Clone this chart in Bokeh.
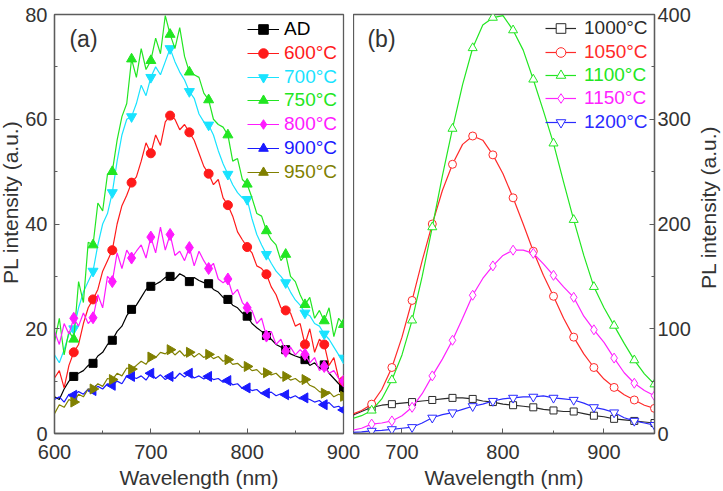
import math
from bokeh.plotting import figure
from bokeh.layouts import row
from bokeh.models import Range1d, SingleIntervalTicker, Legend, LegendItem, Label
from bokeh.embed import file_html
from bokeh.resources import INLINE

# ---------------- panel (a): as-deposited and 600-950 °C anneals ----------------
wl_a = list(range(600, 905, 5))

pl_ad = [7.0, 6.5, 8.5, 10.0, 10.9, 11.5, 12.0, 13.0, 13.4, 14.8,
         15.5, 17.0, 17.8, 19.5, 20.5, 22.5, 23.7, 24.5, 26.0, 27.5,
         28.1, 28.5, 29.0, 29.8, 30.0, 29.5, 30.5, 30.0, 29.0, 29.8,
         29.2, 28.8, 28.6, 27.5, 27.0, 26.0, 25.6, 24.5, 24.0, 23.0,
         22.4, 21.0, 20.2, 19.5, 18.7, 18.0, 17.0, 16.5, 16.0, 15.2,
         14.8, 14.5, 14.1, 13.0, 13.5, 12.5, 13.1, 11.5, 10.5, 9.5, 8.7]
pl_600 = [10.6, 12.0, 8.7, 13.0, 15.5, 17.0, 21.0, 24.0, 25.6, 27.5,
          31.0, 33.0, 35.0, 40.0, 43.5, 45.5, 47.9, 49.0, 52.0, 55.5,
          53.5, 57.0, 55.0, 59.5, 60.7, 60.0, 58.0, 59.0, 57.5, 56.0,
          53.5, 51.0, 49.6, 47.5, 48.5, 45.0, 43.6, 41.5, 38.5, 37.0,
          35.6, 34.5, 32.0, 31.5, 30.4, 28.0, 26.5, 24.0, 23.5, 23.0,
          20.5, 21.0, 17.0, 20.0, 15.5, 18.0, 17.0, 13.0, 14.5, 10.5, 10.0]
pl_700 = [15.0, 13.5, 16.0, 19.0, 20.0, 24.0, 27.0, 29.0, 31.0, 36.0,
          40.0, 42.0, 46.0, 52.0, 57.0, 60.0, 60.5, 63.0, 66.5, 64.5,
          68.0, 70.0, 68.5, 71.0, 73.5, 71.0, 69.0, 67.5, 65.3, 64.0,
          61.0, 59.5, 58.9, 57.0, 54.0, 51.5, 49.5, 47.5, 46.0, 45.0,
          44.7, 41.0, 38.0, 36.0, 34.2, 32.5, 31.0, 30.0, 28.8, 27.0,
          25.5, 24.5, 23.0, 22.5, 21.0, 20.5, 19.0, 18.0, 16.5, 15.0, 14.4]
pl_750 = [17.5, 22.0, 15.0, 19.5, 18.0, 29.0, 25.0, 36.5, 36.0, 44.0,
          42.5, 49.5, 50.0, 56.0, 60.5, 63.0, 71.5, 68.0, 73.5, 69.5,
          71.2, 75.5, 72.5, 79.8, 76.2, 73.5, 77.5, 72.0, 69.0, 68.5,
          68.0, 65.0, 63.7, 60.0, 59.0, 58.5, 57.0, 52.0, 52.5, 48.5,
          47.6, 45.0, 42.0, 41.5, 38.7, 37.0, 36.0, 33.0, 34.2, 30.0,
          29.0, 26.5, 24.6, 26.0, 22.0, 23.5, 21.5, 24.0, 18.5, 22.0, 20.8]
pl_800 = [19.5, 17.0, 21.0, 19.0, 22.0, 20.5, 23.0, 21.0, 22.1, 26.5,
          24.0, 30.0, 29.0, 34.5, 31.5, 35.0, 33.5, 34.8, 36.0, 33.5,
          37.5, 34.5, 39.4, 35.0, 38.0, 34.0, 34.8, 33.0, 35.5, 32.0,
          34.8, 33.0, 31.5, 32.5, 29.5, 28.8, 29.5, 26.5, 27.5, 25.0,
          24.0, 23.5, 21.0, 22.0, 18.6, 19.5, 17.0, 18.0, 15.7, 16.5,
          15.0, 16.0, 15.1, 13.5, 14.5, 12.0, 12.8, 11.5, 12.0, 10.5, 10.0]
pl_900 = [6.5, 7.0, 6.0, 7.5, 7.3, 8.0, 7.5, 8.5, 8.2, 9.0,
          8.5, 9.5, 9.2, 10.0, 9.5, 11.0, 10.9, 10.5, 11.0, 10.2,
          11.5, 10.5, 11.2, 10.3, 10.9, 10.5, 11.5, 10.8, 11.5, 10.6,
          11.0, 10.4, 10.9, 10.3, 10.5, 9.8, 10.1, 9.3, 9.5, 8.6,
          8.7, 8.2, 8.4, 7.6, 7.7, 7.9, 7.2, 7.6, 7.4, 6.8,
          7.2, 6.6, 6.8, 6.5, 6.0, 6.3, 5.5, 5.9, 5.0, 5.2, 4.5]
pl_950 = [3.8, 5.5, 5.0, 6.5, 6.0, 7.5, 7.0, 8.5, 8.5, 9.5,
          9.0, 10.5, 10.3, 11.5, 11.0, 12.5, 12.3, 13.0, 13.8, 13.2,
          14.6, 14.5, 15.5, 15.2, 16.0, 15.0, 15.8, 14.8, 15.5, 14.6,
          15.3, 14.5, 15.1, 14.3, 14.7, 13.8, 14.1, 13.2, 13.4, 12.6,
          12.8, 12.0, 12.2, 11.3, 11.6, 11.2, 11.5, 10.6, 10.9, 10.2,
          10.5, 9.8, 10.3, 9.2, 8.8, 8.0, 7.7, 8.0, 7.0, 7.5, 7.1]

labels_a = ["AD", "600°C", "700°C", "750°C", "800°C", "900°C", "950°C"]
colors_a = ["#000000", "#ff1a1a", "#19e3ff", "#22e622", "#ff1aff", "#1a1aff", "#808000"]

# ---------------- panel (b): 1000-1200 °C anneals ----------------
wl_b = list(range(650, 960, 10))

pl_1000 = [17, 21, 25, 27, 28, 29, 30, 31, 32, 33, 34, 34, 33, 31, 30, 28,
           27, 26, 25, 23, 22, 21, 21, 19, 17, 16, 14, 13, 12, 11, 10]
pl_1050 = [18, 22, 28, 42, 63, 92, 127, 165, 200, 232, 257, 276, 284, 280, 266, 248,
           225, 200, 174, 151, 131, 110, 92, 76, 63, 52, 44, 37, 32, 27, 24]
pl_1100 = [14, 17, 22, 33, 51, 75, 108, 150, 197, 246, 291, 333, 368, 390, 397, 399,
           385, 366, 338, 308, 277, 240, 204, 170, 140, 120, 103, 86, 70, 57, 47]
pl_1150 = [3, 5, 9, 10, 12, 17, 25, 38, 55, 71, 89, 110, 132, 148, 160, 170,
           175, 175, 172, 162, 151, 140, 130, 112, 99, 87, 72, 58, 48, 41, 36]
pl_1200 = [1, 1.5, 2.5, 3, 4, 5, 6, 10, 15, 18, 20, 23, 26, 28, 31, 33,
           34, 35, 35, 36, 34, 33, 32, 29, 25, 23, 20, 15, 12, 10, 8]

labels_b = ["1000°C", "1050°C", "1100°C", "1150°C", "1200°C"]
colors_b = ["#2a2a2a", "#ff2a2a", "#22e622", "#ff22ff", "#2a2aff"]

X_TITLE = "Wavelength (nm)"
Y_TITLE = "PL intensity (a.u.)"

FONT = "Liberation Sans"
AXC = "#5c5c5c"
TXT = "#333333"
H = 491


def style_axis(ax, interval, standoff):
    ax.ticker = SingleIntervalTicker(interval=interval, num_minor_ticks=2)
    ax.axis_line_color = AXC
    ax.axis_line_width = 1.3
    ax.major_tick_line_color = AXC
    ax.minor_tick_line_color = AXC
    ax.major_tick_in = 5
    ax.major_tick_out = 0
    ax.minor_tick_in = 3
    ax.minor_tick_out = 0
    ax.major_label_standoff = standoff
    ax.major_label_text_font = FONT
    ax.major_label_text_font_size = "20px"
    ax.major_label_text_color = TXT


def x_title(ax):
    ax.axis_label = X_TITLE
    ax.axis_label_standoff = 4
    ax.axis_label_text_font = FONT
    ax.axis_label_text_font_size = "21px"
    ax.axis_label_text_font_style = "normal"
    ax.axis_label_text_color = TXT


def base_figure(width, xr, yr, yside, **borders):
    p = figure(width=width, height=H, x_range=xr, y_range=yr,
               output_backend="svg", toolbar_location=None,
               y_axis_location=yside, min_border_top=14, min_border_bottom=58,
               **borders)
    p.xgrid.visible = False
    p.ygrid.visible = False
    p.outline_line_color = AXC
    p.outline_line_width = 1.3
    return p


def title_strip(width, cx, cy):
    # narrow strip holding a vertical axis title (reads bottom to top)
    s = figure(width=width, height=H, x_range=Range1d(0, width), y_range=Range1d(0, H),
               output_backend="svg", toolbar_location=None,
               x_axis_location=None, y_axis_location=None,
               min_border=0, min_border_left=0, min_border_right=0,
               min_border_top=0, min_border_bottom=0)
    s.xgrid.visible = False
    s.ygrid.visible = False
    s.outline_line_color = None
    s.add_layout(Label(x=cx, y=cy, text=Y_TITLE, angle=math.pi / 2,
                       text_align="center", text_baseline="middle",
                       text_font=FONT, text_font_size="21px", text_color=TXT))
    return s


def add_key(p, line_r, mark_r, text, color, x_off, y_off, gw, standoff):
    leg = Legend(items=[LegendItem(label=text, renderers=[line_r, mark_r])],
                 location=(x_off, y_off), glyph_width=gw, glyph_height=24,
                 label_height=24, label_standoff=standoff, padding=0, margin=0,
                 spacing=0, border_line_alpha=0, background_fill_alpha=0,
                 label_text_color=color, label_text_font=FONT,
                 label_text_font_size="19px")
    p.add_layout(leg)


# ---- left title strip
left_strip = title_strip(22, 10, H - 220)

# ---- panel (a)
pa = base_figure(338, Range1d(600, 900), Range1d(0, 80), "left",
                 min_border_left=30, min_border_right=17)
style_axis(pa.xaxis[0], 100, 11)
style_axis(pa.yaxis[0], 20, 7)
x_title(pa.xaxis[0])

series_a = [pl_ad, pl_600, pl_700, pl_750, pl_800, pl_900, pl_950]
# (marker, rotation in degrees, size): 900 °C points left, 950 °C points right
markers_a = [("square", 0, 8), ("circle", 0, 9), ("inverted_triangle", 0, 10),
             ("triangle", 0, 10), ("diamond", 0, 12), ("triangle", 90, 10),
             ("triangle", -90, 10)]
rows_a = [29, 52.5, 76.5, 100, 124, 147.5, 172]
for ys, lab, col, (mk, ang, sz), row_y in zip(series_a, labels_a, colors_a, markers_a, rows_a):
    lr = pa.line(wl_a, ys, line_color=col, line_width=1.2)
    mr = pa.scatter(wl_a[4::4], ys[4::4], marker=mk, angle=ang, angle_units="deg",
                    size=sz, fill_color=col, line_color=col)
    add_key(pa, lr, mr, lab, col, 193, 421 - row_y, 32, 5)

pa.add_layout(Label(x=615.5, y=75.4, text="(a)", text_font=FONT, text_font_size="23px",
                    text_color=TXT, text_baseline="middle"))

# ---- panel (b): pulled 7px left so its frame sits just right of panel (a)
pb = base_figure(340, Range1d(652, 950), Range1d(0, 400), "right",
                 min_border_left=0, min_border_right=38)
pb.border_fill_alpha = 0
pb.styles = {"margin-left": "-7px"}
style_axis(pb.xaxis[0], 100, 11)
style_axis(pb.yaxis[0], 100, 3)
x_title(pb.xaxis[0])

series_b = [pl_1000, pl_1050, pl_1100, pl_1150, pl_1200]
markers_b = ["square", "circle", "triangle", "diamond", "inverted_triangle"]
sizes_b = [7, 8, 9, 10, 9]
rows_b = [28, 52, 75, 98, 122]
for ys, lab, col, mk, sz, row_y in zip(series_b, labels_b, colors_b, markers_b, sizes_b, rows_b):
    lr = pb.line(wl_b, ys, line_color=col, line_width=1.2)
    mr = pb.scatter(wl_b[2::2], ys[2::2], marker=mk, size=sz,
                    fill_color="white", line_color=col, line_width=1)
    add_key(pb, lr, mr, lab, col, 192, 421 - row_y, 31, 8)

pb.add_layout(Label(x=665.8, y=376.4, text="(b)", text_font=FONT, text_font_size="23px",
                    text_color=TXT, text_baseline="middle"))

# ---- right title strip
right_strip = title_strip(30, 15, H - 226)

layout = row(left_strip, pa, pb, right_strip)

with open("out.html", "w") as f:
    f.write(file_html(layout, INLINE))
